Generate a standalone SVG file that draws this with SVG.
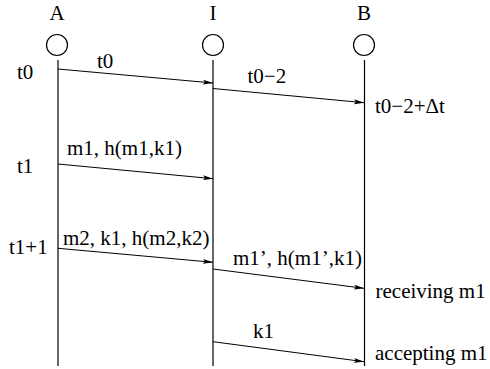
<svg xmlns="http://www.w3.org/2000/svg" width="490" height="369" viewBox="0 0 490 369">
<style>
.t{font-family:'Liberation Serif','Times New Roman',serif;font-size:21px;fill:#000}
.mid{text-anchor:middle}
.life{stroke:#000;stroke-width:1.2;fill:none}
.msg{stroke:#000;stroke-width:1;fill:none;marker-end:url(#ah)}
.node{fill:#fff;stroke:#000;stroke-width:1.2}
</style>
<defs>
<marker id="ah" viewBox="0 0 10 6" refX="10" refY="3" markerWidth="10" markerHeight="6" markerUnits="userSpaceOnUse" orient="auto">
<path d="M0,0.6 L10,3 L0,5.4 L2,3 Z" fill="#000"/>
</marker>
</defs>
<g id="A">
<text class="t mid" x="57" y="19.5">A</text>
<circle class="node" cx="57" cy="45" r="10.5"/>
<line class="life" x1="58" y1="60" x2="58" y2="366"/>
</g>
<g id="I">
<text class="t mid" x="213" y="19.5">I</text>
<circle class="node" cx="213" cy="45" r="10.5"/>
<line class="life" x1="213" y1="60" x2="213" y2="366"/>
</g>
<g id="B">
<text class="t mid" x="364" y="19.5">B</text>
<circle class="node" cx="364" cy="45" r="10.5"/>
<line class="life" x1="364.5" y1="60" x2="364.5" y2="366"/>
</g>
<g id="times">
<text class="t" x="17" y="79">t0</text>
<text class="t" x="17" y="173">t1</text>
<text class="t" x="9" y="254">t1+1</text>
<text class="t" x="375" y="113">t0&#8722;2+&#916;t</text>
<text class="t" x="375.5" y="298">receiving m1</text>
<text class="t" x="375" y="360">accepting m1</text>
</g>
<g id="connectors">
<line class="msg" x1="58" y1="69" x2="213" y2="83"/>
<text class="t" x="97" y="68">t0</text>
<line class="msg" x1="213" y1="88.5" x2="364" y2="102.7"/>
<text class="t" x="247.5" y="83">t0&#8722;2</text>
<line class="msg" x1="58" y1="164" x2="213" y2="178.7"/>
<text class="t" x="67" y="155">m1, h(m1,k1)</text>
<line class="msg" x1="58" y1="248.3" x2="213" y2="262.3"/>
<text class="t" x="63" y="245">m2, k1, h(m2,k2)</text>
<line class="msg" x1="213" y1="269" x2="364" y2="288.3"/>
<text class="t" x="233" y="265">m1&#8217;, h(m1&#8217;,k1)</text>
<line class="msg" x1="213" y1="341.7" x2="364" y2="361.7"/>
<text class="t" x="253" y="338">k1</text>
</g>
</svg>
